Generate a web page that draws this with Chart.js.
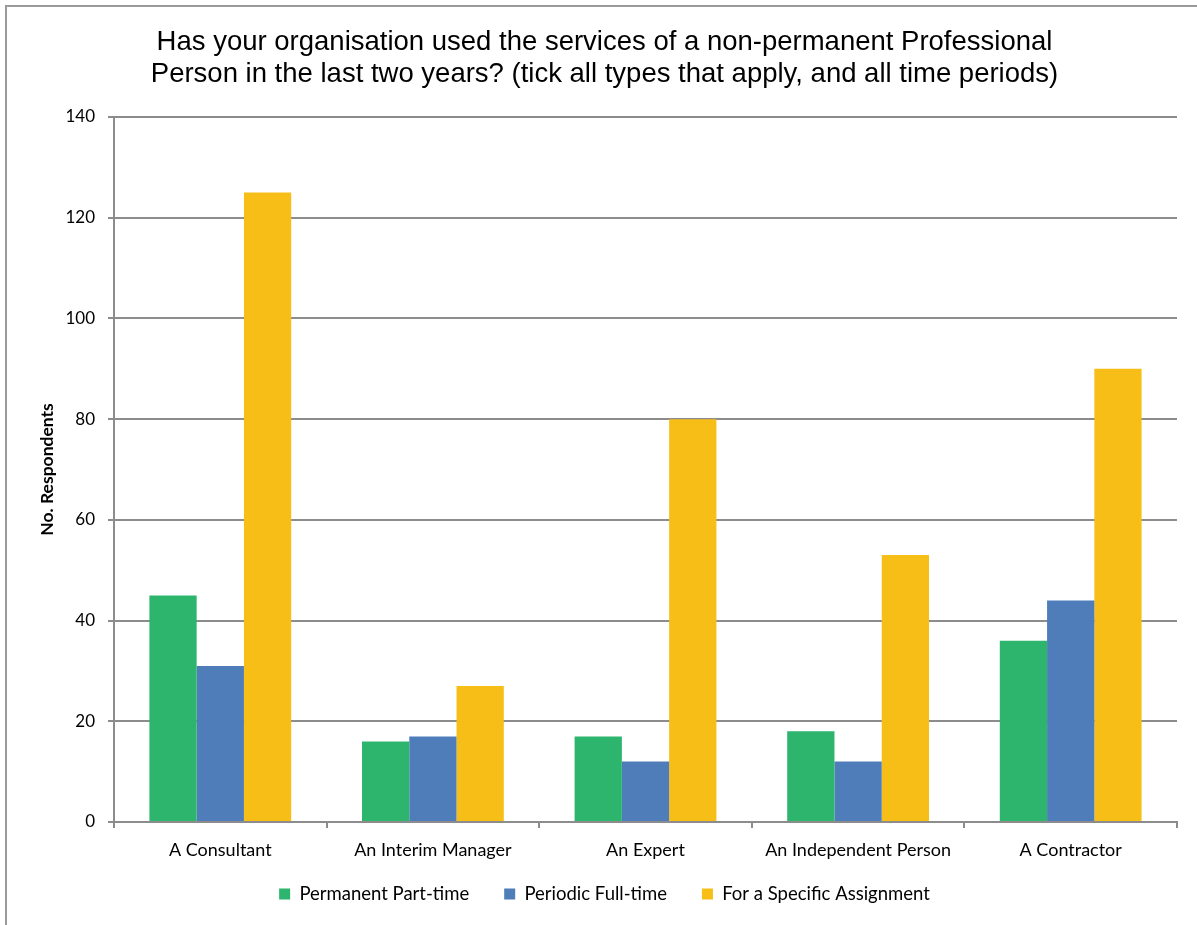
<!DOCTYPE html>
<html>
<head>
<meta charset="utf-8">
<script src="https://cdn.jsdelivr.net/npm/chart.js@4.4.1/dist/chart.umd.min.js"></script>
<style>
  html, body { margin: 0; padding: 0; background: #fff; overflow: hidden; }
  #frame { position: absolute; left: 5px; top: 5px; width: 3000px; height: 3000px;
           border-left: 2px solid #9a9a9a; border-top: 2px solid #9a9a9a; }
  #c { position: absolute; left: 0; top: 0; }
</style>
</head>
<body>
<div id="frame"></div>
<canvas id="c" width="1197" height="925"></canvas>
<script>
const categories = ["A Consultant", "An Interim Manager", "An Expert", "An Independent Person", "A Contractor"];
const permanentPartTime = [45, 16, 17, 18, 36];
const periodicFullTime = [31, 17, 12, 12, 44];
const specificAssignment = [125, 27, 80, 53, 90];
const seriesNames = ["Permanent Part-time", "Periodic Full-time", "For a Specific Assignment"];
const titleLines = ["Has your organisation used the services of a non-permanent Professional",
                    "Person in the last two years? (tick all types that apply, and all time periods)"];
const yAxisTitle = "No. Respondents";

const GRID = "#8c8c8c";

new Chart(document.getElementById("c"), {
  type: "bar",
  data: {
    labels: categories,
    datasets: [
      { label: seriesNames[0], data: permanentPartTime, backgroundColor: "#2db56d" },
      { label: seriesNames[1], data: periodicFullTime, backgroundColor: "#4f7db9" },
      { label: seriesNames[2], data: specificAssignment, backgroundColor: "#f7be18" }
    ]
  },
  options: {
    responsive: false,
    animation: false,
    devicePixelRatio: 1,
    layout: { padding: { left: 32, right: 20, top: 27, bottom: 11.75 } },
    datasets: { bar: { categoryPercentage: 0.667, barPercentage: 1.0 } },
    plugins: {
      title: {
        display: true,
        text: titleLines,
        color: "#000",
        font: { family: "Liberation Sans", size: 27.5, weight: "normal", lineHeight: 1.153 },
        padding: { top: 0, bottom: 26.6 }
      },
      legend: {
        position: "bottom",
        labels: {
          color: "#000",
          font: { family: "Lato", size: 18.5 },
          boxWidth: 11, boxHeight: 11,
          padding: 35
        }
      },
      tooltip: { enabled: false }
    },
    scales: {
      x: {
        grid: { display: true, drawOnChartArea: false, drawTicks: true, tickLength: 6,
                color: GRID, lineWidth: 2, offset: true },
        border: { display: true, color: GRID, width: 2 },
        ticks: { color: "#000", font: { family: "Lato", size: 18 }, padding: 11.5, maxRotation: 0 },
        afterFit: (s) => {
          s.height = 27.75;
          // let the category labels extend below the (compact) scale box
          s._computeLabelArea = () => undefined;
        }
      },
      y: {
        min: 0, max: 140,
        grid: { color: GRID, lineWidth: 2, tickLength: 6 },
        border: { display: true, color: GRID, width: 2 },
        ticks: { stepSize: 20, color: "#000", font: { family: "Lato", size: 17 }, padding: 13 },
        title: { display: true, text: yAxisTitle, color: "#000",
                 font: { family: "Lato", size: 17.5, weight: "bold" }, padding: { top: 5, bottom: 0 } },
        afterFit: (s) => { s.width = 114 - 32; }
      }
    }
  }
});
</script>
</body>
</html>
